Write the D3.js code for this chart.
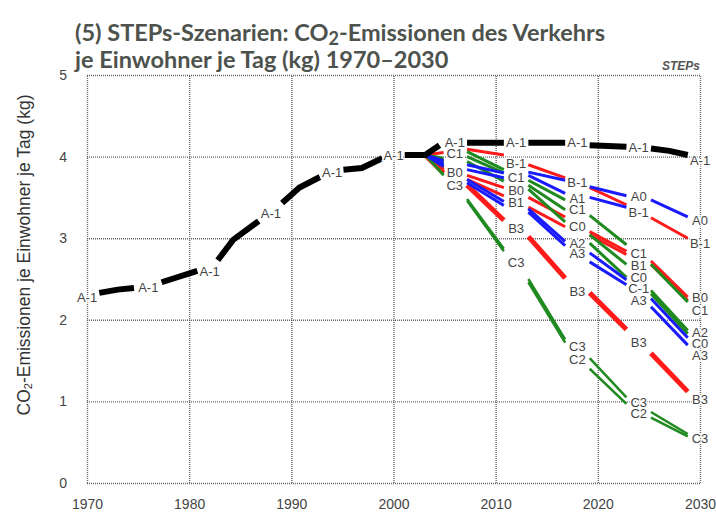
<!DOCTYPE html>
<html>
<head>
<meta charset="utf-8">
<script src="https://cdn.jsdelivr.net/npm/d3@7"></script>
<style>
  body { margin: 0; background: #fff; }
  svg { display: block; }
</style>
</head>
<body>
<div id="chart"></div>
<script>
// years and values of the black A-1 line, one sub-array per drawn piece
const a1Years = [[1971.2, 1973, 1974.6], [1977.3, 1980.8], [1982.8, 1984.3, 1986.8], [1989.1, 1990.8, 1992.8],
  [1995.1, 1996.9, 1998.9], [2001.1, 2003.1, 2004.5], [2007.2, 2010.8], [2013.2, 2016.8], [2019.2, 2022.8], [2025.2, 2027, 2028.8]];
const a1Values = [[2.33, 2.37, 2.39], [2.46, 2.60], [2.73, 2.98, 3.21], [3.43, 3.62, 3.75],
  [3.84, 3.86, 3.98], [4.02, 4.02, 4.14], [4.17, 4.17], [4.17, 4.17], [4.14, 4.12], [4.10, 4.07, 4.02]];

// scenario pieces share these years (start, end of each piece)
const segYears = [[2003.1, 2004.9], [2007.2, 2010.8], [2013.2, 2016.8], [2019.2, 2022.8], [2025.2, 2028.8]];

const A0 = [4.02, 3.95, 3.90, 3.80, 3.81, 3.71, 3.63, 3.52, 3.47, 3.26];
const A1 = [4.02, 3.92, 3.84, 3.74, 3.77, 3.55, 3.50, 3.38, null, null];
const A2 = [4.02, 3.90, 3.72, 3.45, 3.36, 2.96, 2.82, 2.49, 2.26, 1.78];
const A3 = [4.02, 3.88, 3.68, 3.40, 3.32, 2.91, 2.71, 2.43, 2.16, 1.69];
const Bm1 = [4.02, 4.05, 4.09, 4.02, 3.90, 3.74, 3.62, 3.41, 3.25, 3.00];
const B0 = [4.02, 3.86, 3.77, 3.62, 3.50, 3.26, 3.08, 2.84, 2.72, 2.28];
const B1 = [4.02, 3.84, 3.72, 3.52, 3.38, 3.14, 3.04, 2.80, 2.68, 2.24];
const B3 = [4.02, 3.80, 3.65, 3.22, 3.02, 2.51, 2.33, 1.88, 1.59, 1.12];
const Cm1 = [4.02, 3.94, 4.00, 3.80, 3.65, 3.35, 3.04, 2.68, 2.36, 1.87];
const C0 = [4.02, 3.88, 3.94, 3.70, 3.60, 3.20, 2.94, 2.52, 2.32, 1.83];
const C1 = [4.02, 3.98, 4.06, 3.84, 3.71, 3.47, 3.28, 2.92, 2.68, 2.22];
const C2 = [4.02, 3.78, 3.46, 2.84, 2.46, 1.72, 1.40, 0.97, 0.80, 0.57];
const C3 = [4.02, 3.77, 3.48, 2.87, 2.50, 1.76, 1.53, 1.05, 0.87, 0.60];

// labels along the lines
const histLabelYears = [1970, 1976, 1982, 1988, 1994, 2000];
const histLabelValues = [2.27, 2.40, 2.60, 3.31, 3.81, 4.02];
const lab2006 = [["A-1", 4.17], ["C1", 4.04], ["B0", 3.81], ["C3", 3.65]];
const lab2012 = [["A-1", 4.17], ["B-1", 3.92], ["C1", 3.75], ["B0", 3.59], ["B1", 3.44], ["B3", 3.12], ["C3", 2.71]];
const lab2018 = [["A-1", 4.17], ["B-1", 3.69], ["A1", 3.49], ["C1", 3.36], ["C0", 3.15], ["A2", 2.94], ["A3", 2.81],
  ["B3", 2.35], ["C3", 1.67], ["C2", 1.51]];
const lab2024 = [["A-1", 4.11], ["A0", 3.51], ["B-1", 3.32], ["C1", 2.82], ["B1", 2.67], ["C0", 2.52], ["C-1", 2.39],
  ["A3", 2.24], ["B3", 1.72], ["C3", 0.99], ["C2", 0.85]];
const lab2030 = [["A-1", 3.96], ["A0", 3.22], ["B-1", 2.94], ["B0", 2.27], ["C1", 2.12], ["A2", 1.85], ["C0", 1.71],
  ["A3", 1.57], ["B3", 1.02], ["C3", 0.55]];

const xTicks = [1970, 1980, 1990, 2000, 2010, 2020, 2030];
const yTicks = [0, 1, 2, 3, 4, 5];

const W = 716, H = 518;
const margin = {top: 75, right: 16, bottom: 35, left: 87};
const width = W - margin.left - margin.right,
  height = H - margin.top - margin.bottom;

const svg = d3.select("#chart").append("svg").attr("width", W).attr("height", H);

// title
const title = svg.append("g")
  .attr("font-family", "Lato, 'Open Sans', sans-serif")
  .attr("font-weight", "bold")
  .attr("font-size", 23.5)
  .attr("fill", "#4d524d");
const t1 = title.append("text").attr("x", 75).attr("y", 41);
t1.append("tspan").text("(5) STEPs-Szenarien: CO");
t1.append("tspan").attr("font-size", 18).attr("dy", 4).text("2");
t1.append("tspan").attr("dy", -4).text("-Emissionen des Verkehrs");
title.append("text").attr("x", 75).attr("y", 68).text("je Einwohner je Tag (kg) 1970–2030");

const chart = svg.append("g").attr("transform", `translate(${margin.left},${margin.top})`);

const x = d3.scaleLinear().domain([1970, 2030]).range([0, width]);
const y = d3.scaleLinear().domain([0, 5]).range([height, 0]);

// grid via axes
const gx = chart.append("g")
  .attr("transform", `translate(0,${height})`)
  .call(d3.axisBottom(x).tickValues(xTicks).tickFormat(d3.format("d")).tickSize(-height).tickPadding(16));
const gy = chart.append("g")
  .call(d3.axisLeft(y).tickValues(yTicks).tickFormat(d3.format("d")).tickSize(-width).tickPadding(20));
[gx, gy].forEach(g => {
  g.select(".domain").remove();
  g.selectAll(".tick line").attr("stroke", "#666").attr("stroke-width", 1.4).attr("stroke-dasharray", "1,1");
  g.selectAll(".tick text").attr("font-family", "Liberation Sans, Arial, sans-serif")
    .attr("font-size", 14).attr("fill", "#444");
});

// y axis label
const yl = svg.append("text")
  .attr("transform", "translate(24,255) rotate(-90)")
  .attr("text-anchor", "middle")
  .attr("dominant-baseline", "central")
  .attr("font-family", "Liberation Sans, Arial, sans-serif")
  .attr("font-size", 17.5)
  .attr("fill", "#333");
yl.append("tspan").text("CO");
yl.append("tspan").attr("font-size", 11).attr("dy", 4).text("2");
yl.append("tspan").attr("dy", -4).text("-Emissionen je Einwohner je Tag (kg)");

svg.append("text")
  .attr("x", 700).attr("y", 70)
  .attr("text-anchor", "end")
  .attr("font-family", "Liberation Sans, Arial, sans-serif")
  .attr("font-style", "italic")
  .attr("font-weight", "bold")
  .attr("font-size", 12)
  .attr("fill", "#555")
  .text("STEPs");

const line = d3.line().x(d => x(d[0])).y(d => y(d[1]));

function pieces(vals) {
  return segYears.map((yrs, i) => [[yrs[0], vals[2 * i]], [yrs[1], vals[2 * i + 1]]])
    .filter(p => p[0][1] != null);
}

const scenarios = [
  {vals: B0, color: "#ff1a1a", w: 3}, {vals: B1, color: "#ff1a1a", w: 3},
  {vals: Bm1, color: "#ff1a1a", w: 3}, {vals: B3, color: "#ff1a1a", w: 5},
  {vals: Cm1, color: "#1f8a1f", w: 3}, {vals: C0, color: "#1f8a1f", w: 3},
  {vals: C1, color: "#1f8a1f", w: 3}, {vals: C2, color: "#1f8a1f", w: 2.5},
  {vals: C3, color: "#1f8a1f", w: 2.5},
  {vals: A0, color: "#1a1aff", w: 3}, {vals: A1, color: "#1a1aff", w: 3},
  {vals: A2, color: "#1a1aff", w: 3}, {vals: A3, color: "#1a1aff", w: 3}
];

scenarios.forEach(s => {
  chart.append("g").selectAll("path")
    .data(pieces(s.vals))
    .join("path")
    .attr("d", line)
    .attr("fill", "none")
    .attr("stroke", s.color)
    .attr("stroke-width", s.w);
});

chart.append("g").selectAll("path")
  .data(a1Years.map((yrs, i) => yrs.map((yr, j) => [yr, a1Values[i][j]])))
  .join("path")
  .attr("d", line)
  .attr("fill", "none")
  .attr("stroke", "#000")
  .attr("stroke-width", 6);

// labels
const allLabels = histLabelYears.map((yr, i) => [yr, "A-1", histLabelValues[i]])
  .concat(lab2006.map(d => [2006, d[0], d[1]]))
  .concat(lab2012.map(d => [2012, d[0], d[1]]))
  .concat(lab2018.map(d => [2018, d[0], d[1]]))
  .concat(lab2024.map(d => [2024, d[0], d[1]]))
  .concat(lab2030.map(d => [2030, d[0], d[1]]));

chart.append("g").selectAll("text")
  .data(allLabels)
  .join("text")
  .attr("x", d => x(d[0]))
  .attr("y", d => y(d[2]))
  .attr("dy", "0.36em")
  .attr("text-anchor", "middle")
  .attr("font-family", "Liberation Sans, Arial, sans-serif")
  .attr("font-size", 13)
  .attr("fill", "#444")
  .attr("stroke", "#fff")
  .attr("stroke-width", 3)
  .attr("paint-order", "stroke")
  .text(d => d[1]);
</script>
</body>
</html>
